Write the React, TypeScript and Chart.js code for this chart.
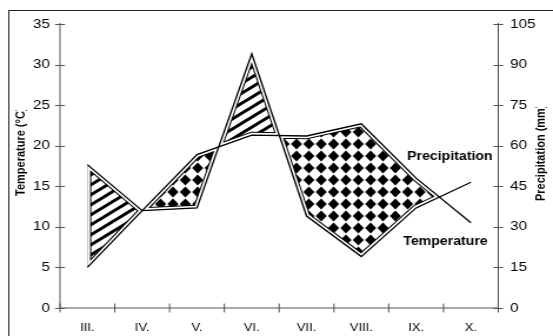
import { useEffect, useRef } from 'react';
import { Chart, registerables } from 'chart.js';

Chart.register(...registerables);

// ---- data ----
const months = ['III.', 'IV.', 'V.', 'VI.', 'VII.', 'VIII.', 'IX.', 'X.'];
const temperature = [5, 12, 18.9, 21.3, 21.2, 22.7, 16, 10.5]; // °C (left axis)
const precipitation = [53, 36, 37, 94, 34, 19, 37, 46.5]; // mm (right axis)
const tempAxis = { min: 0, max: 35, step: 5 };
const precAxis = { min: 0, max: 105, step: 15 };
const leftTitle = 'Temperature (°C)';
const rightTitle = 'Precipitation (mm)';
const tempLabel = 'Temperature';
const precLabel = 'Precipitation';

// ---- layout (internal canvas is drawn narrower, then stretched horizontally) ----
const W = 553;
const H = 336;
const STRETCH = 1.176;
const IW = Math.round(W / STRETCH);
const FONT = "Arial, 'Liberation Sans', Helvetica, sans-serif";

function makeStripes(ctx: CanvasRenderingContext2D) {
  const c = document.createElement('canvas');
  c.width = 14;
  c.height = 10;
  const g = c.getContext('2d')!;
  g.fillStyle = '#fff';
  g.fillRect(0, 0, 14, 10);
  g.strokeStyle = '#000';
  g.lineWidth = 3;
  for (const dx of [-28, -14, 0, 14, 28]) {
    g.beginPath();
    g.moveTo(dx - 14, 20);
    g.lineTo(dx + 28, -10);
    g.stroke();
  }
  return ctx.createPattern(c, 'repeat')!;
}

function makeChecks(ctx: CanvasRenderingContext2D) {
  const c = document.createElement('canvas');
  c.width = 21;
  c.height = 24;
  const g = c.getContext('2d')!;
  g.fillStyle = '#fff';
  g.fillRect(0, 0, 21, 24);
  g.fillStyle = '#000';
  const hx = 5.25 * 0.9;
  const hy = 6 * 0.9;
  for (const cx of [0, 10.5, 21]) {
    for (const cy of [0, 12, 24]) {
      g.beginPath();
      g.moveTo(cx - hx, cy);
      g.lineTo(cx, cy - hy);
      g.lineTo(cx + hx, cy);
      g.lineTo(cx, cy + hy);
      g.closePath();
      g.fill();
    }
  }
  return ctx.createPattern(c, 'repeat')!;
}

type Pt = [number, number];

function buildRegions(xs: number[], T: number[], P: number[]) {
  const regs: { pts: Pt[]; tempAbove: boolean; tail: boolean }[] = [];
  let curT: Pt[] = [[xs[0], T[0]]];
  let curP: Pt[] = [[xs[0], P[0]]];
  let sum = P[0] - T[0];
  const close = (tail: boolean) => {
    const pts = [...curT, ...curP.slice().reverse()];
    regs.push({ pts, tempAbove: sum > 0, tail });
  };
  for (let i = 0; i < xs.length - 1; i++) {
    const d0 = P[i] - T[i];
    const d1 = P[i + 1] - T[i + 1];
    if (d0 * d1 < 0) {
      const f = d0 / (d0 - d1);
      const cx = xs[i] + f * (xs[i + 1] - xs[i]);
      const cy = T[i] + f * (T[i + 1] - T[i]);
      curT.push([cx, cy]);
      curP.push([cx, cy]);
      close(false);
      curT = [[cx, cy]];
      curP = [[cx, cy]];
      sum = 0;
    }
    curT.push([xs[i + 1], T[i + 1]]);
    curP.push([xs[i + 1], P[i + 1]]);
    sum += d1;
    if (Math.abs(d1) < 0.01 && i + 1 < xs.length - 1) {
      close(false);
      curT = [[xs[i + 1], T[i + 1]]];
      curP = [[xs[i + 1], P[i + 1]]];
      sum = 0;
    }
  }
  close(true);
  return regs;
}

const climatePlugin = {
  id: 'climate',
  beforeDatasetsDraw(chart: any) {
    const ctx: CanvasRenderingContext2D = chart.ctx;
    const xs = chart.scales.x;
    const yT = chart.scales.y;
    const yP = chart.scales.y1;
    const px = months.map((_, i) => xs.getPixelForValue(i));
    const tp = temperature.map((v) => yT.getPixelForValue(v));
    const pp = precipitation.map((v) => yP.getPixelForValue(v));
    const stripes = makeStripes(ctx);
    const checks = makeChecks(ctx);
    const regs = buildRegions(px, tp, pp).filter((r) => !r.tail);
    for (const r of regs) {
      ctx.save();
      ctx.beginPath();
      r.pts.forEach((p, k) => (k ? ctx.lineTo(p[0], p[1]) : ctx.moveTo(p[0], p[1])));
      ctx.closePath();
      ctx.clip();
      ctx.fillStyle = r.tempAbove ? checks : stripes;
      ctx.fill();
      ctx.lineJoin = 'miter';
      ctx.strokeStyle = '#000';
      ctx.lineWidth = 6.6;
      ctx.stroke();
      ctx.strokeStyle = '#fff';
      ctx.lineWidth = 4.6;
      ctx.stroke();
      ctx.restore();
    }
  },
  afterDraw(chart: any) {
    const ctx: CanvasRenderingContext2D = chart.ctx;
    const { left, right, top, bottom } = chart.chartArea;
    const xs = chart.scales.x;
    const yT = chart.scales.y;
    const yP = chart.scales.y1;
    ctx.save();
    // outer frame
    ctx.strokeStyle = '#222';
    ctx.lineWidth = 1;
    ctx.strokeRect(7.5, 10.5, IW + 40, H + 40);
    // axes
    ctx.strokeStyle = '#555';
    ctx.lineWidth = 1;
    ctx.beginPath();
    ctx.moveTo(left, top - 1);
    ctx.lineTo(left, bottom);
    ctx.lineTo(right, bottom);
    ctx.moveTo(right, top - 1);
    ctx.lineTo(right, bottom);
    yT.ticks.forEach((t: any) => {
      const y = Math.round(yT.getPixelForValue(t.value)) + 0.5;
      ctx.moveTo(left - 4.2, y);
      ctx.lineTo(left + 4.2, y);
    });
    yP.ticks.forEach((t: any) => {
      const y = Math.round(yP.getPixelForValue(t.value)) + 0.5;
      ctx.moveTo(right - 4.2, y);
      ctx.lineTo(right + 4.2, y);
    });
    const half = (xs.getPixelForValue(1) - xs.getPixelForValue(0)) / 2;
    for (let i = 0; i <= months.length; i++) {
      const x = xs.getPixelForValue(i) - half;
      ctx.moveTo(x, bottom - 4.5);
      ctx.lineTo(x, bottom + 4.5);
    }
    ctx.stroke();

    // series labels
    ctx.fillStyle = '#000';
    ctx.font = `bold 12px ${FONT}`;
    ctx.textAlign = 'left';
    ctx.textBaseline = 'middle';
    ctx.fillText(precLabel, 346, 156.5);
    ctx.fillText(tempLabel, 342.7, 242);

    // axis titles (closing bracket cut off as in the original)
    ctx.font = `bold 11px ${FONT}`;
    const drawTitle = (text: string, x: number, y0: number, keep: number) => {
      const w = ctx.measureText(text.slice(0, keep)).width;
      ctx.save();
      ctx.beginPath();
      ctx.rect(0, y0 - w - 1.2, IW, w + 40);
      ctx.clip();
      ctx.translate(x, y0);
      ctx.rotate(-Math.PI / 2);
      ctx.fillText(text, 0, 0);
      ctx.restore();
    };
    drawTitle(leftTitle, 17.9, 196, leftTitle.length - 1);
    drawTitle(rightTitle, 459.5, 201, rightTitle.length - 1);
    ctx.restore();
  },
};

export default function App() {
  const ref = useRef<HTMLCanvasElement>(null);
  useEffect(() => {
    const canvas = ref.current!;
    const chart = new Chart(canvas, {
      type: 'line',
      data: {
        labels: months,
        datasets: [
          {
            label: tempLabel,
            data: temperature,
            yAxisID: 'y',
            borderColor: '#000',
            borderWidth: 1.3,
            pointRadius: 0,
            tension: 0,
            fill: false,
          },
          {
            label: precLabel,
            data: precipitation,
            yAxisID: 'y1',
            borderColor: '#000',
            borderWidth: 1.3,
            pointRadius: 0,
            tension: 0,
            fill: false,
          },
        ],
      },
      options: {
        responsive: false,
        maintainAspectRatio: false,
        devicePixelRatio: 1,
        animation: false,
        events: [],
        layout: { padding: { top: 24, left: 0, right: 0, bottom: 0 } },
        plugins: { legend: { display: false }, tooltip: { enabled: false }, title: { display: false } },
        scales: {
          x: {
            type: 'category',
            offset: true,
            grid: { display: false, drawTicks: false },
            border: { display: false },
            ticks: { color: '#000', font: { family: FONT, size: 11 }, padding: 13, maxRotation: 0, autoSkip: false },
            afterFit: (s: any) => {
              s.height = 28;
            },
          },
          y: {
            position: 'left',
            min: tempAxis.min,
            max: tempAxis.max,
            grid: { display: false, drawTicks: false },
            border: { display: false },
            ticks: { stepSize: tempAxis.step, color: '#000', font: { family: FONT, size: 13 }, padding: 8.5 },
            afterFit: (s: any) => {
              s.width = 51;
            },
          },
          y1: {
            position: 'right',
            min: precAxis.min,
            max: precAxis.max,
            grid: { display: false, drawTicks: false },
            border: { display: false },
            ticks: { stepSize: precAxis.step, color: '#000', font: { family: FONT, size: 13 }, padding: 10 },
            afterFit: (s: any) => {
              s.width = IW - 423.5;
            },
          },
        },
      },
      plugins: [climatePlugin],
    } as any);
    return () => chart.destroy();
  }, []);
  return (
    <div style={{ position: 'fixed', left: 0, top: 0, width: W, height: H, background: '#fff' }}>
      <canvas ref={ref} width={IW} height={H} style={{ width: `${W}px`, height: `${H}px`, display: 'block' }} />
    </div>
  );
}
